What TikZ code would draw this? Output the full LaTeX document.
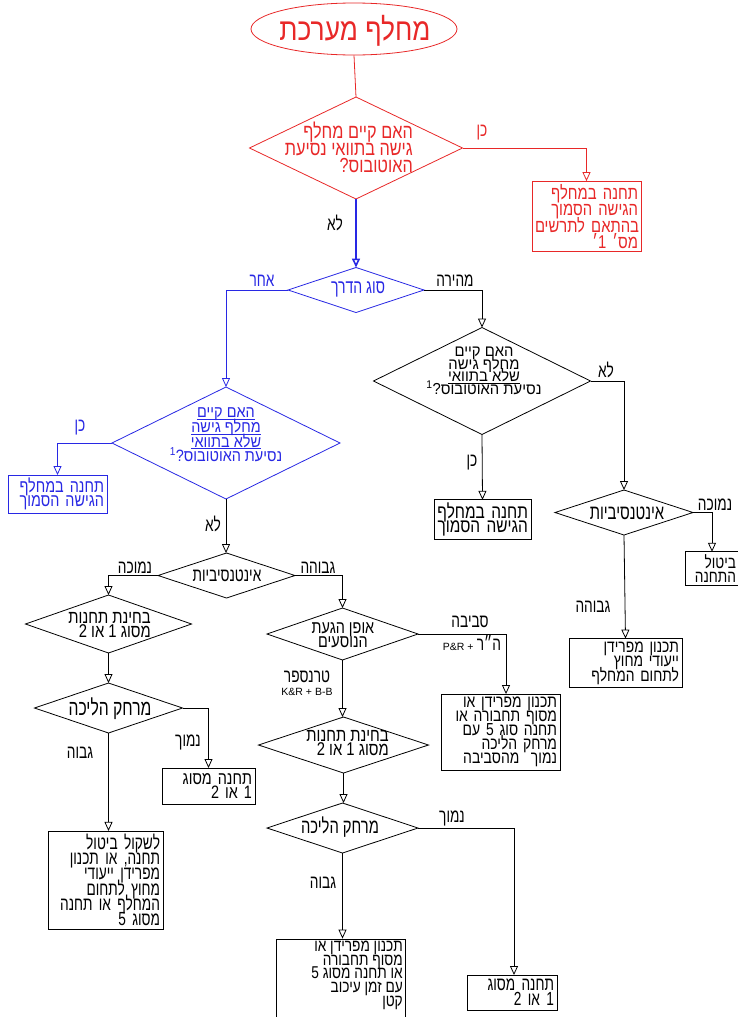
\documentclass[tikz,border=0pt]{standalone}
\usepackage{fontspec}
\usetikzlibrary{shapes.geometric,arrows.meta,calc}
\TeXXeTstate=1
\newfontfamily\heb[Script=Hebrew,FakeStretch=0.72]{Liberation Sans}
\newfontfamily\hebB[Script=Hebrew,FakeStretch=0.8]{Liberation Sans}
\newfontfamily\hebC[Script=Hebrew,FakeStretch=0.88]{Liberation Sans}
\newfontfamily\hebD[Script=Hebrew,FakeStretch=0.93]{Liberation Sans}
\newfontfamily\hebtitle[Script=Hebrew,FakeStretch=0.85]{Liberation Sans}
\newfontfamily\latf{Liberation Sans}
\newsavebox\ulinebox
\newcommand\hl[1]{\leavevmode\hbox{\beginR #1\endR}}
\newcommand\hu[1]{\leavevmode\sbox\ulinebox{\beginR #1\endR}\usebox\ulinebox\llap{\rule[-1.8pt]{\wd\ulinebox}{0.6pt}}}
\newcommand\fsz[2]{\fontsize{#1}{#2}\selectfont\lineskiplimit=-100pt\relax}
\definecolor{fred}{RGB}{232,40,40}
\definecolor{fblue}{RGB}{40,40,228}
\begin{document}
\begin{tikzpicture}[x=1pt,y=-1pt,
  dmd/.style 2 args={shape=diamond,draw,inner sep=0pt,outer sep=0pt,minimum width=#1,minimum height=#2,line width=0.8pt},
  boxn/.style={draw,rectangle,inner sep=3pt,outer sep=0pt,align=right,line width=0.8pt,font=\heb\fsz{19}{14.5}},
  htxt/.style={inner sep=0pt,font=\heb\fsz{19}{14.5}},
  lbl/.style={inner sep=0pt,font=\heb\fsz{19}{14}},
  conn/.style={line width=0.8pt,-{Triangle[open,length=9pt,width=8pt]}},
  plain/.style={line width=0.8pt}]
\useasboundingbox (0,0) rectangle (738,1017);
\fill[white] (0,0) rectangle (738,1017);

% start of the system interchange branch
\node[ellipse,draw=fred,line width=0.8pt,minimum width=206pt,minimum height=52pt,inner sep=0pt] (top) at (354,29) {};
\node[inner sep=0pt,text=fred,font=\hebtitle\fsz{31}{31}] (topt) at (355,31) {\hl{מחלף מערכת}};

\node[dmd={213pt}{102pt},draw=fred] (d1) at (356,148) {};
\node[htxt,text=fred,align=right,anchor=east,font=\hebB\fsz{20.3}{17}] (d1t) at (413,147)
  {\hl{האם קיים מחלף}\\\hl{גישה בתוואי נסיעת}\\\hl{האוטובוס?}};
\draw[plain,fred] (top.south) -- (d1.north);

\node[boxn,draw=fred,text=fred,text width=103pt,minimum height=67pt,font=\hebB\fsz{18.5}{16.5}] (rb) at (586.5,216.5)
  {\hl{תחנה במחלף}\\\hl{הגישה הסמוך}\\\hl{בהתאם לתרשים}\\\hl{מס׳ 1׳}};
\draw[conn,fred] (d1.east) -| (rb.north);
\node[lbl,text=fred] (l1) at (482,133) {\hl{כן}};

% road type
\node[dmd={136pt}{45pt},draw=fblue] (d2) at (356,290) {};
\node[htxt,text=fblue,font=\heb\fsz{19.5}{14}] (d2t) at (358,289) {\hl{סוג הדרך}};
\draw[conn,fblue,line width=1.6pt] (d1.south) -- (d2.north);
\node[lbl] (l2) at (335,223) {\hl{לא}};

% other road
\node[dmd={228pt}{112pt},draw=fblue] (d3) at (226,443) {};
\node[htxt,text=fblue,align=center,font=\hebC\fsz{16.4}{14.7}] (d3t) at (226,435)
  {\hu{האם קיים}\\\hu{מחלף גישה}\\\hu{שלא בתוואי}\\\hl{נסיעת האוטובוס?\textsuperscript{1}}};
\draw[conn,fblue] (d2.west) -| (d3.north);
\node[lbl,text=fblue] (l3) at (262,281) {\hl{אחר}};

\node[boxn,draw=fblue,text=fblue,text width=93pt,minimum height=38pt,font=\hebB\fsz{18}{13.5}] (bb) at (57.5,494)
  {\hl{תחנה במחלף}\\\hl{הגישה הסמוך}};
\draw[conn,fblue] (d3.west) -| (bb.north);
\node[lbl,text=fblue] (l4) at (80,428) {\hl{כן}};

% expressway
\node[dmd={217pt}{107pt}] (d4) at (482,381) {};
\node[htxt,align=center,font=\hebD\fsz{15.9}{12.7}] (d4t) at (484,371)
  {\hl{האם קיים}\\\hl{מחלף גישה}\\\hu{שלא בתוואי}\\\hl{נסיעת האוטובוס?\textsuperscript{1}}};
\draw[conn] (d2.east) -| (d4.north);
\node[lbl] (l5) at (455,281) {\hl{מהירה}};

\node[boxn,text width=91pt,minimum height=39pt,font=\hebB\fsz{19.3}{14}] (kb) at (482.5,519.5)
  {\hl{תחנה במחלף}\\\hl{הגישה הסמוך}};
\draw[conn] (d4.south) -- (kb.north);
\node[lbl] (l6) at (472,463) {\hl{כן}};

\node[dmd={138pt}{45pt}] (d6) at (624,512.5) {};
\node[htxt,font=\heb\fsz{20.6}{14}] (d6t) at (627,513) {\hl{אינטנסיביות}};
\draw[conn] (d4.east) -| (d6.north);
\node[lbl] (l7) at (606,370) {\hl{לא}};

\node[boxn,text width=48pt,minimum height=33pt,font=\hebB\fsz{17.1}{13.5}] (cb) at (712,568.5)
  {\hl{ביטול}\\\hl{התחנה}};
\draw[conn] (d6.east) -| (cb.north);
\node[lbl] (l8) at (715,505) {\hl{נמוכה}};

\node[boxn,text width=107pt,minimum height=48pt,font=\hebB\fsz{17.3}{14.5}] (eb) at (625.5,663)
  {\hl{תכנון מפרידן}\\\hl{ייעודי מחוץ}\\\hl{לתחום המחלף}};
\draw[conn] (d6.south) -- (eb.north);
\node[lbl] (l9) at (593,607) {\hl{גבוהה}};

% intensity on other roads
\node[dmd={137pt}{45pt}] (d5) at (226.5,575.5) {};
\node[htxt] (d5t) at (227,576) {\hl{אינטנסיביות}};
\draw[conn] (d3.south) -- (d3.south |- d5.north);
\node[lbl] (l10) at (213,524) {\hl{לא}};

\node[dmd={166pt}{58pt}] (d7) at (108.5,624) {};
\node[htxt,align=right,anchor=east,font=\hebB\fsz{18.5}{14}] (d7t) at (151,625)
  {\hl{בחינת תחנות}\\\hl{מסוג 1 או 2}};
\draw[conn] (d5.west) -| (d7.north);
\node[lbl] (l11) at (135,568) {\hl{נמוכה}};

\node[dmd={148pt}{50pt}] (d9) at (108.5,708) {};
\node[htxt,font=\heb\fsz{21.8}{14}] (d9t) at (110,709) {\hl{מרחק הליכה}};
\draw[conn] (d7.south) -- (d9.north);

\node[boxn,text width=87pt,minimum height=36pt,font=\hebB\fsz{18}{14}] (b12) at (208.5,786)
  {\hl{תחנה מסוג}\\\hl{1 או 2}\hspace*{7pt}};
\draw[conn] (d9.east) -| (b12.north);
\node[lbl] (l12) at (188,742) {\hl{נמוך}};

\node[boxn,text width=109pt,minimum height=96pt,font=\heb\fsz{19}{15.3}] (bl) at (105.5,880)
  {\hl{לשקול ביטול}\\\hl{תחנה, או תכנון}\\\hl{מפרידן ייעודי}\\\hl{מחוץ לתחום}\\\hl{המחלף או תחנה}\\\hl{מסוג 5}};
\draw[conn] (d9.south) -- (d9.south |- bl.north);
\node[lbl] (l13) at (80,753) {\hl{גבוה}};

% passenger arrival mode
\node[dmd={151pt}{52pt}] (d8) at (342.5,634) {};
\node[htxt,align=center,font=\hebB\fsz{18}{14}] (d8t) at (343,635)
  {\hl{אופן הגעת}\\\hl{הנוסעים}};
\draw[conn] (d5.east) -| (d8.north);
\node[lbl] (l14) at (318,568) {\hl{גבוהה}};

\node[boxn,text width=113pt,minimum height=72pt,font=\hebB\fsz{17.4}{14}] (bpr) at (500.5,732)
  {\hl{תכנון מפרידן או}\\\hl{מסוף תחבורה או}\\\hl{תחנה סוג 5 עם}\\\hl{מרחק הליכה}\\\hl{נמוך\ \ מהסביבה}};
\draw[conn] (d8.east) -| ([xshift=5.5pt]bpr.north);
\node[lbl] (l15) at (470,622) {\hl{סביבה}};
\node[inner sep=0pt] (l16) at (472,643) {{\latf\fsz{10.5}{11}P\&R +} {\heb\fsz{19}{14}\hl{ה״ר}}};

\node[dmd={170pt}{56pt}] (d10) at (343.5,745) {};
\node[htxt,align=right,anchor=east,font=\hebB\fsz{18.5}{14}] (d10t) at (389,743)
  {\hl{בחינת תחנות}\\\hl{מסוג 1 או 2}};
\draw[conn] (d8.south) -- (d8.south |- d10.north);
\node[lbl] (l17) at (307,677) {\hl{טרנספר}};
\node[inner sep=0pt,font=\latf\fsz{10.5}{11}] (l18) at (307,692) {K\&R + B-B};

\node[dmd={151pt}{50pt}] (d11) at (342.5,828) {};
\node[htxt,font=\heb\fsz{20.5}{14}] (d11t) at (340,827) {\hl{מרחק הליכה}};
\draw[conn] (d10.south) -- (d10.south |- d11.north);

\node[boxn,text width=84pt,minimum height=35pt,font=\heb\fsz{19}{15}] (b12b) at (512,992.5)
  {\hl{תחנה מסוג}\\\hl{1 או 2}\hspace*{7pt}};
\draw[conn] (d11.east) -| ([xshift=2pt]b12b.north);
\node[lbl] (l19) at (452,818) {\hl{נמוך}};

\node[draw,rectangle,line width=0.8pt,minimum width=129pt,minimum height=90pt,inner sep=0pt] (bbt) at (340.5,984) {};
\node[htxt,align=right,anchor=north east,font=\hebB\fsz{17.1}{13.6}] (bbtt) at (403,941)
  {\hl{תכנון מפרידן או}\\\hl{מסוף תחבורה}\\\hl{או תחנה מסוג 5}\\\hl{עם זמן עיכוב}\\\hl{קטן}};
\draw[conn] (d11.south) -- (d11.south |- bbt.north);
\node[lbl] (l20) at (323,883) {\hl{גבוה}};
\end{tikzpicture}
\end{document}
